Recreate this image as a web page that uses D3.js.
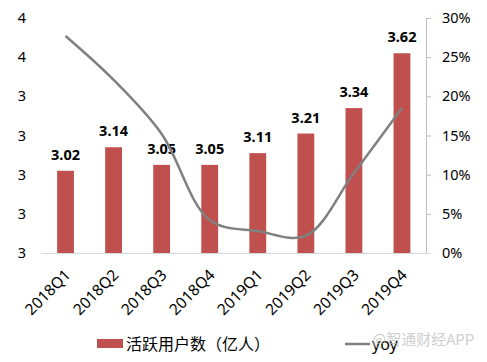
<!DOCTYPE html>
<html><head><meta charset="utf-8">
<script src="https://cdn.jsdelivr.net/npm/d3@7"></script>
<style>body{margin:0;background:#fff;} svg{display:block;font-family:"Noto Sans","Noto Sans CJK SC",sans-serif;}</style>
</head><body>
<svg id="c" width="487" height="362"></svg>
<script>
const categories = ["2018Q1","2018Q2","2018Q3","2018Q4","2019Q1","2019Q2","2019Q3","2019Q4"];
const users = [3.02,3.14,3.05,3.05,3.11,3.21,3.34,3.62];
const yoy = [0.277,0.221,0.152,0.042,0.028,0.022,0.102,0.185];
const leftTicks = [2.6,2.8,3.0,3.2,3.4,3.6,3.8];
const rightTicks = [0,0.05,0.10,0.15,0.20,0.25,0.30];
const barName = "活跃用户数（亿人）";
const lineName = "yoy";
const watermark = "@智通财经APP";

const svg = d3.select("#c");
const x = d3.scaleBand().domain(categories).range([41.5,426]).paddingInner(0.65).paddingOuter(0.325);
const yL = d3.scaleLinear().domain([2.6,3.8]).range([253,18]);
const yR = d3.scaleLinear().domain([0,0.3]).range([253,18]);

// left axis labels
const gl = svg.append("g").attr("transform","translate(26,0)")
  .call(d3.axisLeft(yL).tickValues(leftTicks).tickFormat(d3.format(".0f")).tickSize(0).tickPadding(0));
gl.select(".domain").remove();
gl.selectAll("text").attr("font-size",14.5).attr("fill","#000").attr("font-family","Noto Sans");

// right axis
const gr = svg.append("g").attr("transform","translate(426,0)")
  .call(d3.axisRight(yR).tickValues(rightTicks).tickFormat(d3.format(".0%")).tickSize(5).tickPadding(11));
gr.select(".domain").attr("stroke","#bfbfbf");
gr.selectAll(".tick line").attr("stroke","#bfbfbf");
gr.selectAll("text").attr("font-size",14.5).attr("fill","#000").attr("font-family","Noto Sans");

// bars
svg.append("g").selectAll("rect").data(users).join("rect")
  .attr("x",(d,i)=>x(categories[i])).attr("width",x.bandwidth())
  .attr("y",d=>yL(d)).attr("height",d=>yL(2.6)-yL(d)).attr("fill","#c0504d");

// baseline
svg.append("line").attr("x1",41.5).attr("x2",431).attr("y1",253.5).attr("y2",253.5).attr("stroke","#d9d9d9");

// labels
svg.append("g").selectAll("text").data(users).join("text")
  .attr("x",(d,i)=>x(categories[i])+x.bandwidth()/2).attr("y",d=>yL(d)-11)
  .attr("text-anchor","middle").attr("font-size",14.5).attr("font-weight","bold")
  .attr("font-family","Noto Sans").text(d=>d3.format(".2f")(d));

// line
const line = d3.line().x((d,i)=>x(categories[i])+x.bandwidth()/2).y(d=>yR(d)).curve(d3.curveCatmullRom.alpha(0.5));
svg.append("path").datum(yoy).attr("d",line).attr("fill","none").attr("stroke","#808080").attr("stroke-width",2.5);

// x labels
svg.append("g").selectAll("text").data(categories).join("text")
  .attr("transform",d=>`translate(${x(d)+x.bandwidth()/2+6},${276}) rotate(-45)`)
  .attr("text-anchor","end").attr("font-size",15.5).attr("font-family","Noto Sans").text(d=>d);

// legend
svg.append("rect").attr("x",97).attr("y",339).attr("width",26).attr("height",9).attr("fill","#c0504d");
svg.append("text").attr("x",126).attr("y",350).attr("font-size",16).attr("font-family","Noto Sans CJK SC").text(barName);
svg.append("line").attr("x1",345).attr("x2",370).attr("y1",344).attr("y2",344).attr("stroke","#808080").attr("stroke-width",2.5);
svg.append("text").attr("x",372).attr("y",350).attr("font-size",16).attr("font-family","Noto Sans").text(lineName);
svg.append("text").attr("x",372).attr("y",345).attr("font-size",15).attr("font-family","Noto Sans CJK SC").attr("fill","#bbb").attr("opacity",0.7).text(watermark);
</script>
</body></html>
